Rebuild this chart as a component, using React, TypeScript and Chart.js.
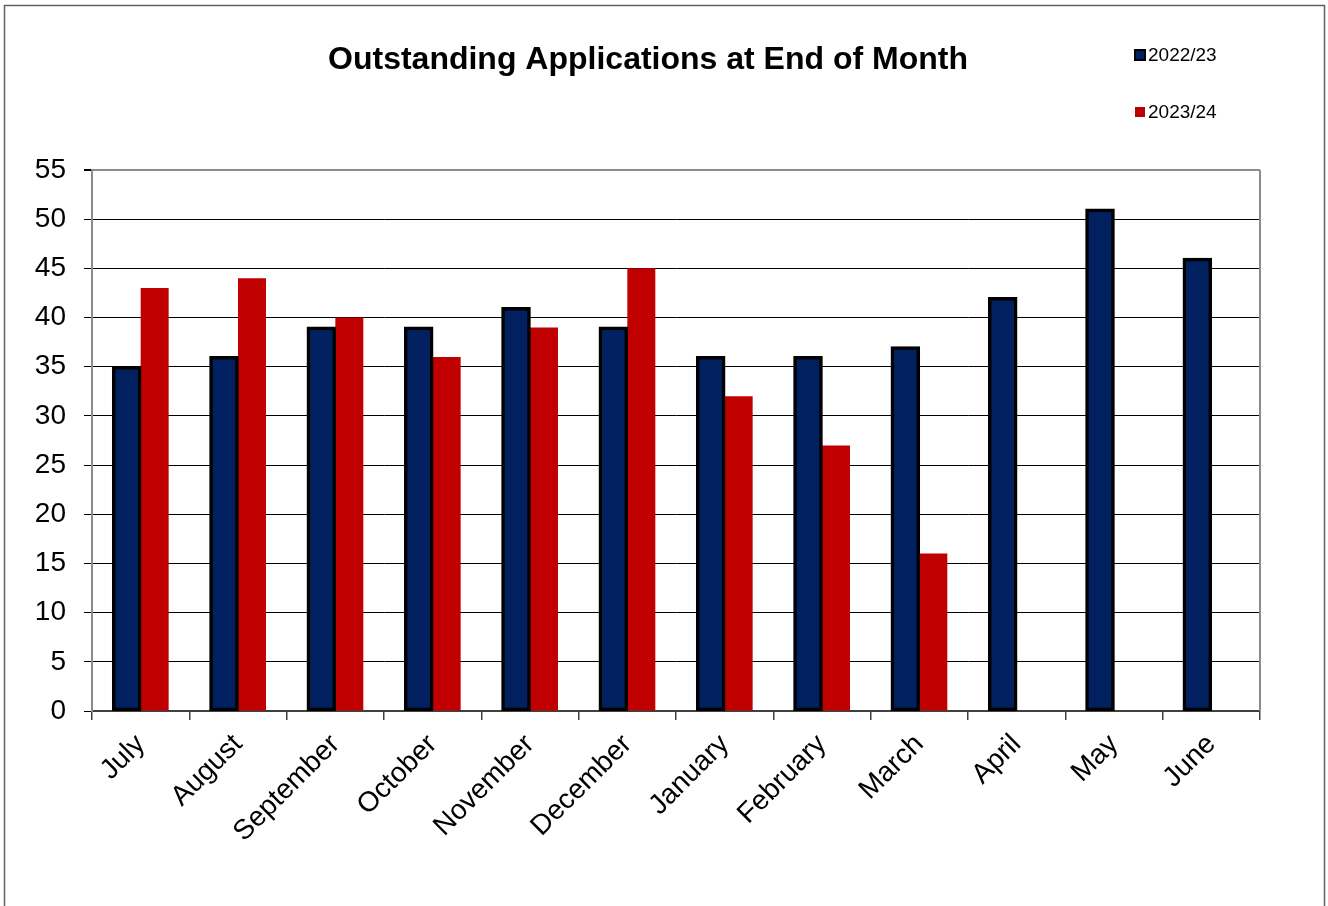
import React, { useEffect, useRef } from "react";
import { Chart, registerables } from "chart.js";

Chart.register(...registerables);

const TITLE = "Outstanding Applications at End of Month";
const MONTHS = ["July", "August", "September", "October", "November", "December", "January", "February", "March", "April", "May", "June"];
const SERIES_2022 = [35, 36, 39, 39, 41, 39, 36, 36, 37, 42, 51, 46];
const SERIES_2023 = [43, 44, 40, 36, 39, 45, 32, 27, 16, null, null, null];
const Y_MIN = 0;
const Y_MAX = 55;
const Y_STEP = 5;

const FONT = "'Liberation Sans', Arial, sans-serif";

const decorPlugin = {
  id: "decor",
  beforeDraw(chart: any) {
    const { ctx } = chart;
    ctx.save();
    ctx.fillStyle = "#fff";
    ctx.fillRect(0, 0, chart.width, chart.height);
    ctx.strokeStyle = "#606060";
    ctx.lineWidth = 1.5;
    ctx.beginPath();
    ctx.moveTo(4.5, chart.height + 5);
    ctx.lineTo(4.5, 5.5);
    ctx.lineTo(1324.5, 5.5);
    ctx.lineTo(1324.5, chart.height + 5);
    ctx.stroke();
    ctx.restore();
  },
  beforeDatasetsDraw(chart: any) {
    const { ctx, chartArea } = chart;
    ctx.save();
    ctx.strokeStyle = "#8c8c8c";
    ctx.lineWidth = 2;
    ctx.beginPath();
    ctx.moveTo(chartArea.right, chartArea.top);
    ctx.lineTo(chartArea.right, chartArea.bottom);
    ctx.stroke();
    ctx.restore();
  },
  afterDraw(chart: any) {
    const { ctx } = chart;
    ctx.save();
    // title
    ctx.fillStyle = "#000";
    ctx.font = `bold 32px ${FONT}`;
    ctx.textAlign = "center";
    ctx.textBaseline = "middle";
    ctx.fillText(TITLE, 648, 60);
    // legend
    ctx.font = `19px ${FONT}`;
    ctx.textAlign = "left";
    const ys = [55, 112];
    chart.data.datasets.forEach((ds: any, i: number) => {
      const y = ys[i];
      if (ds.borderWidth) {
        ctx.fillStyle = "#000";
        ctx.fillRect(1134, y - 6, 12, 12);
        ctx.fillStyle = ds.backgroundColor;
        ctx.fillRect(1136, y - 4, 8, 8);
      } else {
        ctx.fillStyle = ds.backgroundColor;
        ctx.fillRect(1135, y - 5, 10, 10);
      }
      ctx.fillStyle = "#000";
      ctx.fillText(ds.label, 1148, y + 1);
    });
    ctx.restore();
  },
};

export default function App() {
  const ref = useRef<HTMLCanvasElement | null>(null);
  useEffect(() => {
    if (!ref.current) return;
    const chart = new Chart(ref.current, {
      type: "bar",
      data: {
        labels: MONTHS,
        datasets: [
          {
            label: "2022/23",
            data: SERIES_2022,
            backgroundColor: "#00205f",
            borderColor: "#000",
            borderWidth: 3.5,
            inflateAmount: 0.8,
            borderSkipped: false,
          },
          {
            label: "2023/24",
            data: SERIES_2023,
            backgroundColor: "#c00000",
            borderWidth: 0,
          },
        ],
      },
      plugins: [decorPlugin],
      options: {
        animation: false,
        responsive: true,
        maintainAspectRatio: false,
        layout: { padding: { left: 0, right: 68, top: 170, bottom: 0 } },
        datasets: { bar: { categoryPercentage: 0.575, barPercentage: 1 } },
        plugins: {
          legend: { display: false },
          title: { display: false },
          tooltip: { enabled: false },
        },
        scales: {
          x: {
            afterFit: (s: any) => {
              s.height = 195;
            },
            grid: {
              offset: true,
              drawOnChartArea: false,
              drawTicks: true,
              tickLength: 9,
              color: "#404040",
              lineWidth: 1.5,
            },
            border: { color: "#404040", width: 2 },
            ticks: {
              color: "#000",
              font: { family: FONT, size: 28 },
              maxRotation: 45,
              minRotation: 45,
              padding: 8,
              autoSkip: false,
            },
          },
          y: {
            min: Y_MIN,
            max: Y_MAX,
            afterFit: (s: any) => {
              s.width = 92;
            },
            grid: {
              color: (c: any) => (c.tick && c.tick.value === Y_MAX ? "#8c8c8c" : "#000"),
              lineWidth: (c: any) => (c.tick && c.tick.value === Y_MAX ? 2 : 1),
              tickColor: "#000",
              tickLength: 8,
            },
            border: { color: "#8c8c8c", width: 2 },
            ticks: {
              stepSize: Y_STEP,
              color: "#000",
              font: { family: FONT, size: 28 },
              padding: 18,
            },
          },
        },
      },
    });
    return () => chart.destroy();
  }, []);
  return (
    <div style={{ position: "fixed", left: 0, top: 0, width: 1328, height: 906, background: "#fff" }}>
      <canvas ref={ref} />
    </div>
  );
}
